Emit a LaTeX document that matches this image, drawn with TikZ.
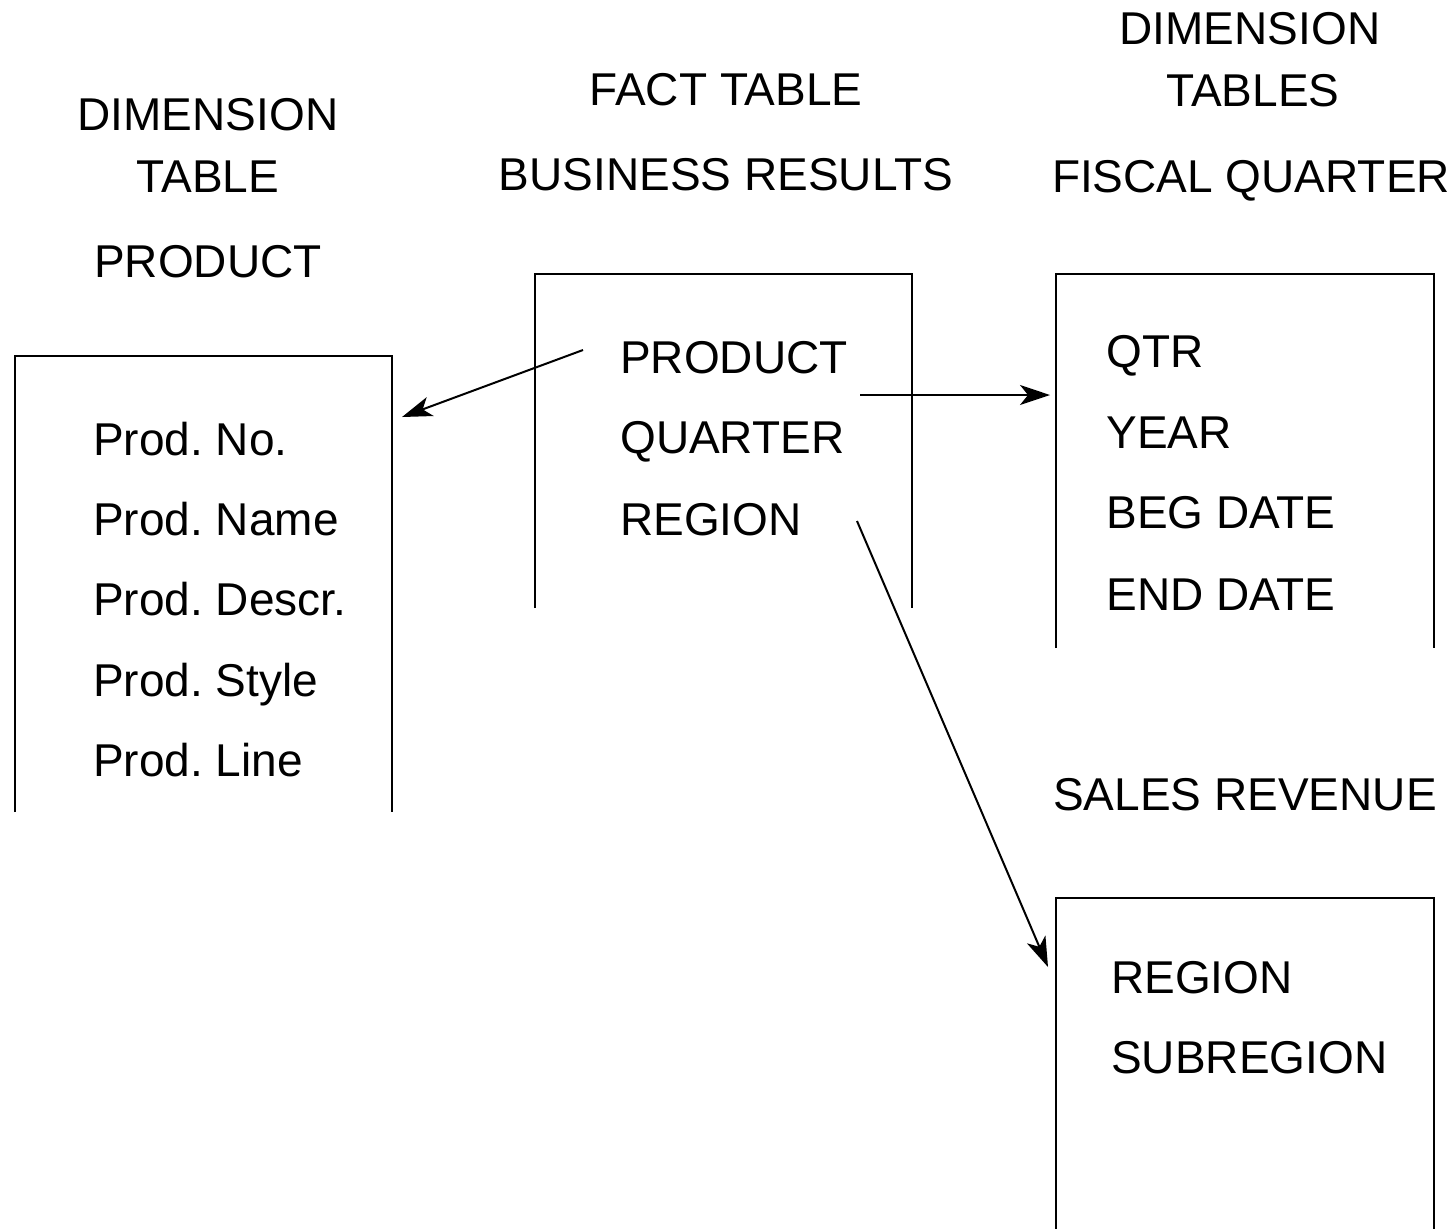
\documentclass[tikz,border=0pt]{standalone}
\usepackage{fontspec}
\setmainfont{Liberation Sans}
\usetikzlibrary{arrows.meta}
\frenchspacing
\begin{document}
\begin{tikzpicture}[x=0.5pt, y=-0.5pt, line width=1.3pt,
  every node/.style={inner sep=0pt, font=\fontsize{23pt}{28pt}\selectfont},
  head/.style={anchor=base},
  item/.style={anchor=base west},
  link/.style={line width=1pt, -{Stealth[length=15pt, width=10pt, inset=4pt]}}]
\useasboundingbox (0,0) rectangle (1455,1228);
\draw (15,812) |- (392,356) -- (392,812);
\draw (535,608) |- (912,274) -- (912,608);
\draw (1056,648) |- (1434,274) -- (1434,648);
\draw (1056,1240) |- (1434,898) -- (1434,1240);
\node[head] (dimhead) at (208,130) {DIMENSION};
\node[head] (tabhead) at (208,192) {TABLE};
\node[head] (prodhead) at (208,277) {PRODUCT};
\node[head] (facthead) at (726,105) {FACT TABLE};
\node[head] (bushead) at (726,190) {BUSINESS RESULTS};
\node[head] (dimshead) at (1250,44) {DIMENSION};
\node[head] (tabshead) at (1253,106) {TABLES};
\node[head] (fischead) at (1251,192) {FISCAL QUARTER};
\node[head] (saleshead) at (1245,810) {SALES REVENUE};
\node[item] (prodno) at (92,455) {Prod. No.};
\node[item] (prodname) at (92,535) {Prod. Name};
\node[item] (proddescr) at (92,615) {Prod. Descr.};
\node[item] (prodstyle) at (92,696) {Prod. Style};
\node[item] (prodline) at (92,776) {Prod. Line};
\node[item] (fproduct) at (619,373) {PRODUCT};
\node[item] (fquarter) at (619,453) {QUARTER};
\node[item] (fregion) at (619,535) {REGION};
\node[item] (qtr) at (1105,367) {QTR};
\node[item] (year) at (1105,448) {YEAR};
\node[item] (begdate) at (1105,528) {BEG DATE};
\node[item] (enddate) at (1105,610) {END DATE};
\node[item] (region) at (1110,993) {REGION};
\node[item] (subregion) at (1110,1073) {SUBREGION};
\coordinate (prodfrom) at (583,350);
\coordinate (prodto) at (402,417);
\coordinate (qtrfrom) at (860,395);
\coordinate (qtrto) at (1050,395);
\coordinate (regfrom) at (857,521);
\coordinate (regto) at (1048,967);
\draw[link] (prodfrom) -- (prodto);
\draw[link] (qtrfrom) -- (qtrto);
\draw[link] (regfrom) -- (regto);
\end{tikzpicture}
\end{document}
